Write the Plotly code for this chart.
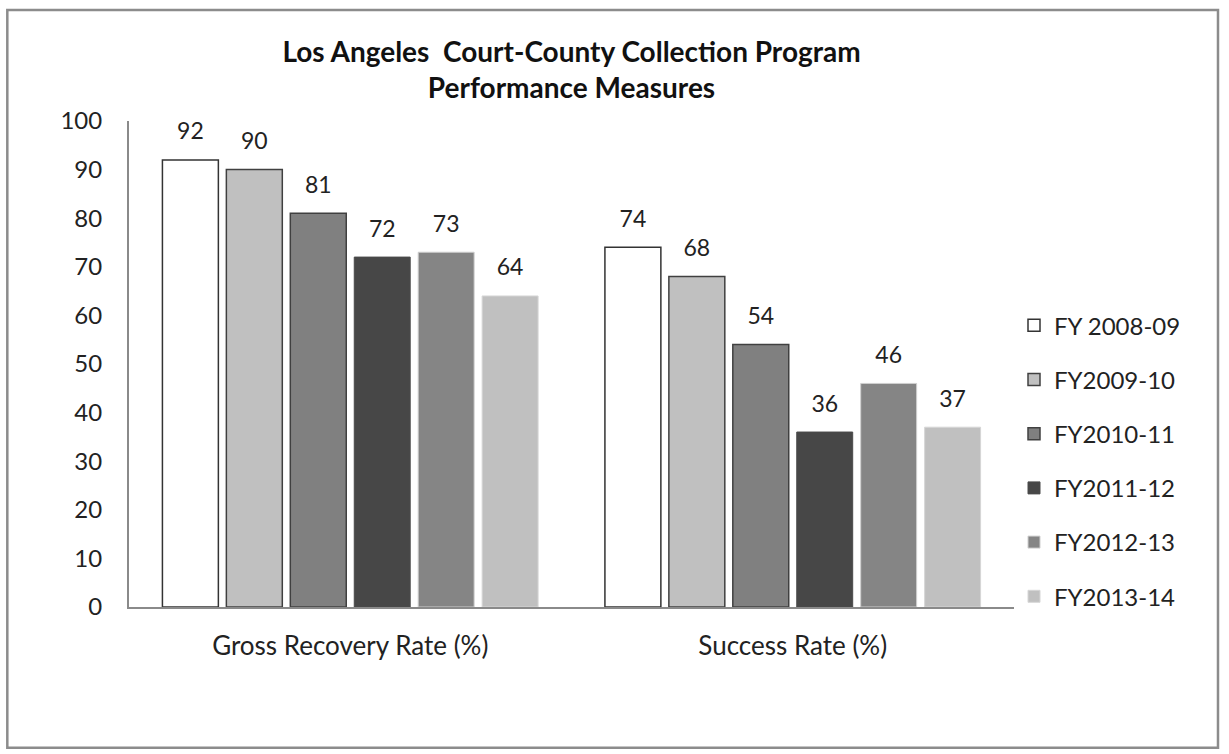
import plotly.graph_objects as go

categories = ["Gross Recovery Rate (%)", "Success Rate (%)"]
series_names = ["FY 2008-09", "FY2009-10", "FY2010-11", "FY2011-12", "FY2012-13", "FY2013-14"]
fy2008_09 = [92, 74]
fy2009_10 = [90, 68]
fy2010_11 = [81, 54]
fy2011_12 = [72, 36]
fy2012_13 = [73, 46]
fy2013_14 = [64, 37]
series_values = [fy2008_09, fy2009_10, fy2010_11, fy2011_12, fy2012_13, fy2013_14]
y_ticks = [0, 10, 20, 30, 40, 50, 60, 70, 80, 90, 100]

fills = ["#ffffff", "#c0c0c0", "#808080", "#474747", "#858585", "#c0c0c0"]
edges = ["#333333", "#404040", "#404040", "#4a4a4a", "#cfcfcf", "#d6d6d6"]
edge_w = [1.5, 1.5, 1.5, 1, 1, 1]

FONT = "Lato"
fig = go.Figure()
for i, (name, vals) in enumerate(zip(series_names, series_values)):
    fig.add_trace(go.Bar(
        x=categories, y=vals, name=name, offsetgroup=str(i),
        legendgroup=str(i),
        marker=dict(color=fills[i], line=dict(color=edges[i], width=edge_w[i])),
        hoverinfo="skip",
    ))
for i, (name, vals) in enumerate(zip(series_names, series_values)):
    fig.add_trace(go.Scatter(
        x=categories, y=vals, mode="markers+text", text=[str(v) for v in vals],
        textposition="top center", offsetgroup=str(i), showlegend=False,
        marker=dict(size=22, opacity=0),
        textfont=dict(family=FONT, size=23, color="#222222"),
        cliponaxis=False, hoverinfo="skip",
    ))

fig.update_layout(
    width=1229, height=754,
    margin=dict(l=129, r=215, t=121, b=147),
    paper_bgcolor="white", plot_bgcolor="white",
    barmode="group", bargap=0.133, bargroupgap=0.125,
    scattermode="group", scattergap=0.133,
    font=dict(family=FONT, size=24, color="#222222"),
    title=dict(
        text="<b>Los Angeles  Court-County Collection Program<br>Performance Measures</b>",
        x=0.5, xref="paper", xanchor="center", y=0.918, yanchor="middle",
        font=dict(family=FONT, size=28, color="#111111"),
    ),
    legend=dict(
        x=1.0, xanchor="left", y=0.30, yanchor="middle",
        font=dict(family=FONT, size=24, color="#222222"),
        tracegroupgap=20, bgcolor="rgba(0,0,0,0)",
    ),
    showlegend=True,
    shapes=[dict(type="rect", xref="paper", yref="paper",
                 x0=-0.1375, x1=1.2305, y0=-0.2896, y1=1.2284,
                 line=dict(color="#8c8c8c", width=2.5), fillcolor="rgba(0,0,0,0)", layer="below")],
)
fig.update_xaxes(showline=True, linecolor="#8a8a8a", linewidth=2, showgrid=False,
                 ticks="", ticklabelstandoff=15, tickfont=dict(family=FONT, size=26))
fig.update_yaxes(range=[0, 100], tickvals=y_ticks, showline=True, linecolor="#8a8a8a",
                 linewidth=2, showgrid=False, zeroline=False, ticks="",
                 ticklabelstandoff=20, tickfont=dict(family=FONT, size=24))

fig.write_html("out.html", config={"displayModeBar": False},
               post_script="document.body.style.margin='0';document.body.style.overflow='hidden';")
